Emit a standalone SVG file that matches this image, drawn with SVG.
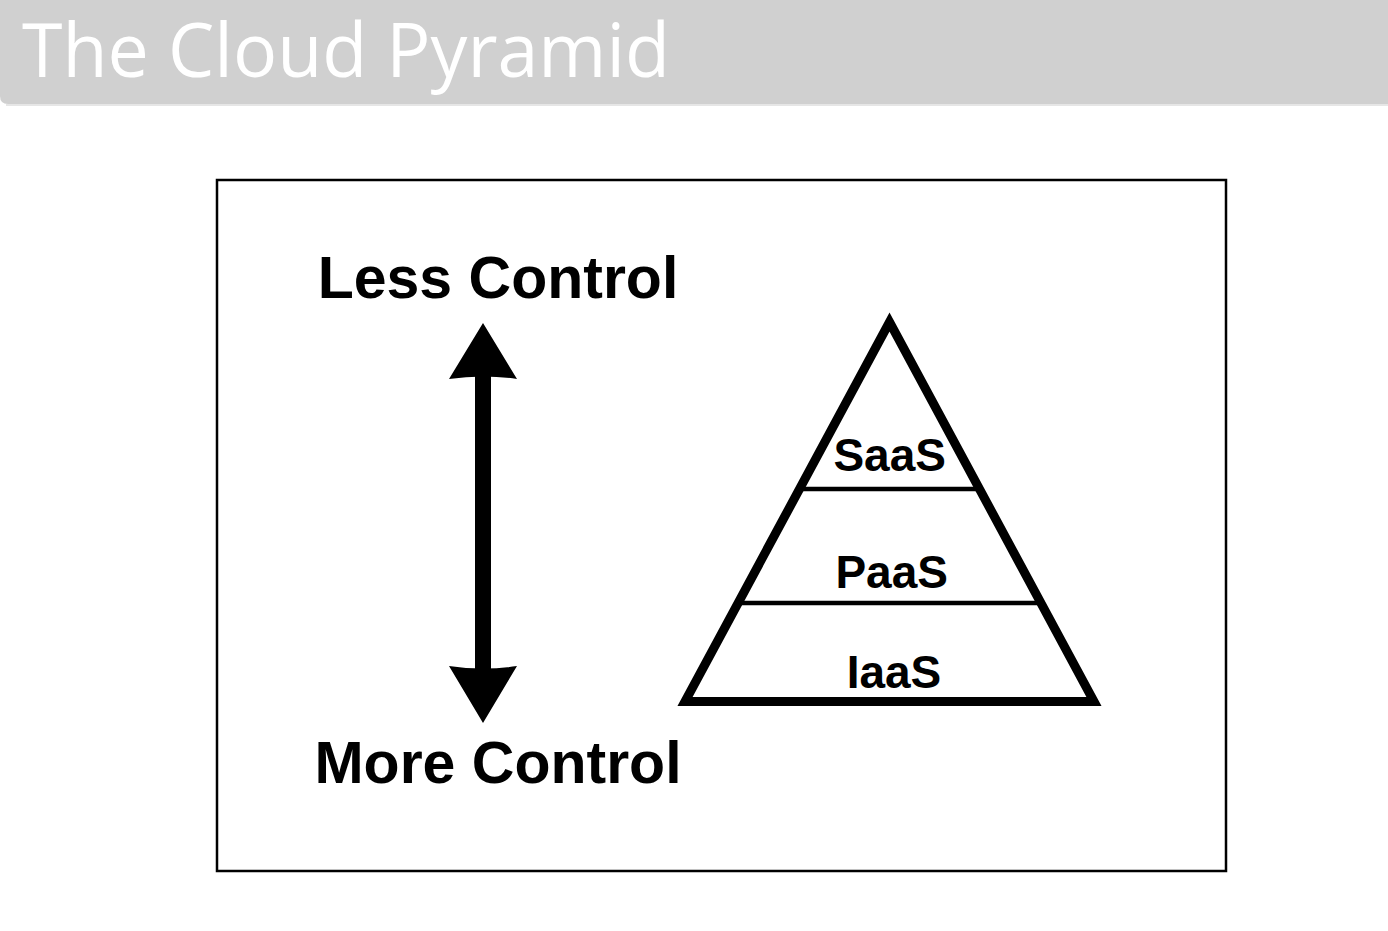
<svg xmlns="http://www.w3.org/2000/svg" width="1388" height="931" viewBox="0 0 1388 931">
  <style>
    .title { font-family: "Open Sans", "Noto Sans", sans-serif; font-size: 75px; fill: #ffffff; }
    .label { font-family: "Liberation Sans", Arial, sans-serif; font-weight: bold; fill: #000000; text-anchor: middle; }
    .big { font-size: 59px; }
    .tier { font-size: 46px; }
    .edge { stroke: #000000; fill: none; }
  </style>
  <rect x="0" y="0" width="1388" height="931" fill="#ffffff"/>
  <g id="header">
    <path d="M0,0 H1388 V104 H8 Q0,104 0,96 Z" fill="#d0d0d0"/>
    <line x1="6" y1="105" x2="1388" y2="105" stroke="#e6e6e6" stroke-width="2"/>
    <text class="title" x="22" y="77" textLength="648" lengthAdjust="spacingAndGlyphs">The Cloud Pyramid</text>
  </g>
  <g id="frame">
    <rect x="217" y="180" width="1009" height="691" fill="none" stroke="#000000" stroke-width="2.5"/>
  </g>
  <g id="less-control">
    <text class="label big" x="498" y="298">Less Control</text>
  </g>
  <g id="more-control">
    <text class="label big" x="498" y="783">More Control</text>
  </g>
  <g id="connectors">
    <rect x="475" y="375" width="16" height="295" fill="#000000"/>
    <path d="M483,323 L517,379 Q483,374 449,379 Z" fill="#000000"/>
    <path d="M483,723 L517,666 Q483,671 449,666 Z" fill="#000000"/>
  </g>
  <g id="pyramid">
    <line class="edge" x1="800" y1="489" x2="979" y2="489" stroke-width="4.5"/>
    <line class="edge" x1="738" y1="603" x2="1041" y2="603" stroke-width="4.5"/>
    <polygon class="edge" points="889.5,322 1094,701.5 685,701.5" stroke-width="9" stroke-linejoin="miter" stroke-miterlimit="10"/>
  </g>
  <g id="saas">
    <text class="label tier" x="889.7" y="471">SaaS</text>
  </g>
  <g id="paas">
    <text class="label tier" x="891.7" y="588">PaaS</text>
  </g>
  <g id="iaas">
    <text class="label tier" x="894" y="688">IaaS</text>
  </g>
</svg>
